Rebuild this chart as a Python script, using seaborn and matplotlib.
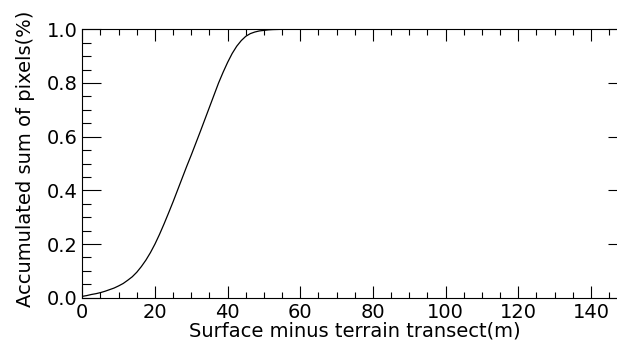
import numpy as np
import pandas as pd
import matplotlib
matplotlib.use("Agg")
import matplotlib.pyplot as plt
from matplotlib.ticker import MultipleLocator
import seaborn as sns

# Cumulative share of pixels vs surface-minus-terrain height
height_m = [0, 1.25, 2.5, 3.75, 5, 6.25, 7.5, 8.75, 10, 11.25, 12.5, 13.75,
            15, 16.25, 17.5, 18.75, 20, 21.25, 22.5, 23.75, 25, 26.25, 27.5,
            28.75, 30, 31.25, 32.5, 33.75, 35, 36.25, 37.5, 38.75, 40, 41.25,
            42.5, 43.75, 45, 46.25, 47.5, 48.75, 50, 51.25, 52.5, 55, 60,
            80, 100, 120, 150]
cum_share = [0.005, 0.008, 0.012, 0.015, 0.019, 0.024, 0.030, 0.036, 0.044,
             0.053, 0.065, 0.078, 0.095, 0.116, 0.140, 0.168, 0.200, 0.236,
             0.275, 0.316, 0.358, 0.402, 0.446, 0.490, 0.532, 0.576, 0.620,
             0.665, 0.710, 0.755, 0.800, 0.840, 0.877, 0.910, 0.937, 0.958,
             0.974, 0.984, 0.990, 0.994, 0.996, 0.998, 0.999, 1.0, 1.0,
             1.0, 1.0, 1.0, 1.0]

df = pd.DataFrame({"height": height_m, "share": cum_share})

sns.set_style("ticks")
plt.rcParams["font.family"] = ["DejaVu Sans"]
plt.rcParams["text.color"] = "black"
plt.rcParams["axes.labelcolor"] = "black"
plt.rcParams["xtick.color"] = "black"
plt.rcParams["ytick.color"] = "black"

fig = plt.figure(figsize=(6.17, 3.40), dpi=100)
ax = fig.add_axes([0.1334, 0.1244, 0.8833, 0.7894])

sns.lineplot(data=df, x="height", y="share", color="black", linewidth=0.9, ax=ax)

ax.set_xlim(0, 150)
ax.set_ylim(0, 1.0)
ax.xaxis.set_major_locator(MultipleLocator(20))
ax.xaxis.set_minor_locator(MultipleLocator(5))
ax.yaxis.set_major_locator(MultipleLocator(0.2))
ax.yaxis.set_minor_locator(MultipleLocator(0.05))
ax.yaxis.set_major_formatter(plt.FormatStrFormatter("%.1f"))

ax.tick_params(axis="both", which="both", direction="in", top=True, right=True,
               color="black", labelcolor="black", width=0.8, labelsize=14)
ax.tick_params(axis="x", which="major", length=8.6)
ax.tick_params(axis="x", which="minor", length=4.3)
ax.tick_params(axis="y", which="major", length=13.7)
ax.tick_params(axis="y", which="minor", length=6.5)
for sp in ax.spines.values():
    sp.set_linewidth(0.8)
    sp.set_color("black")

ax.set_xlabel("Surface minus terrain transect(m)", fontsize=14, labelpad=0)
ax.set_ylabel("Accumulated sum of pixels(%)", fontsize=14, labelpad=8)
ax.yaxis.label.set_y(0.519)

fig.savefig("out.png", dpi=100)
